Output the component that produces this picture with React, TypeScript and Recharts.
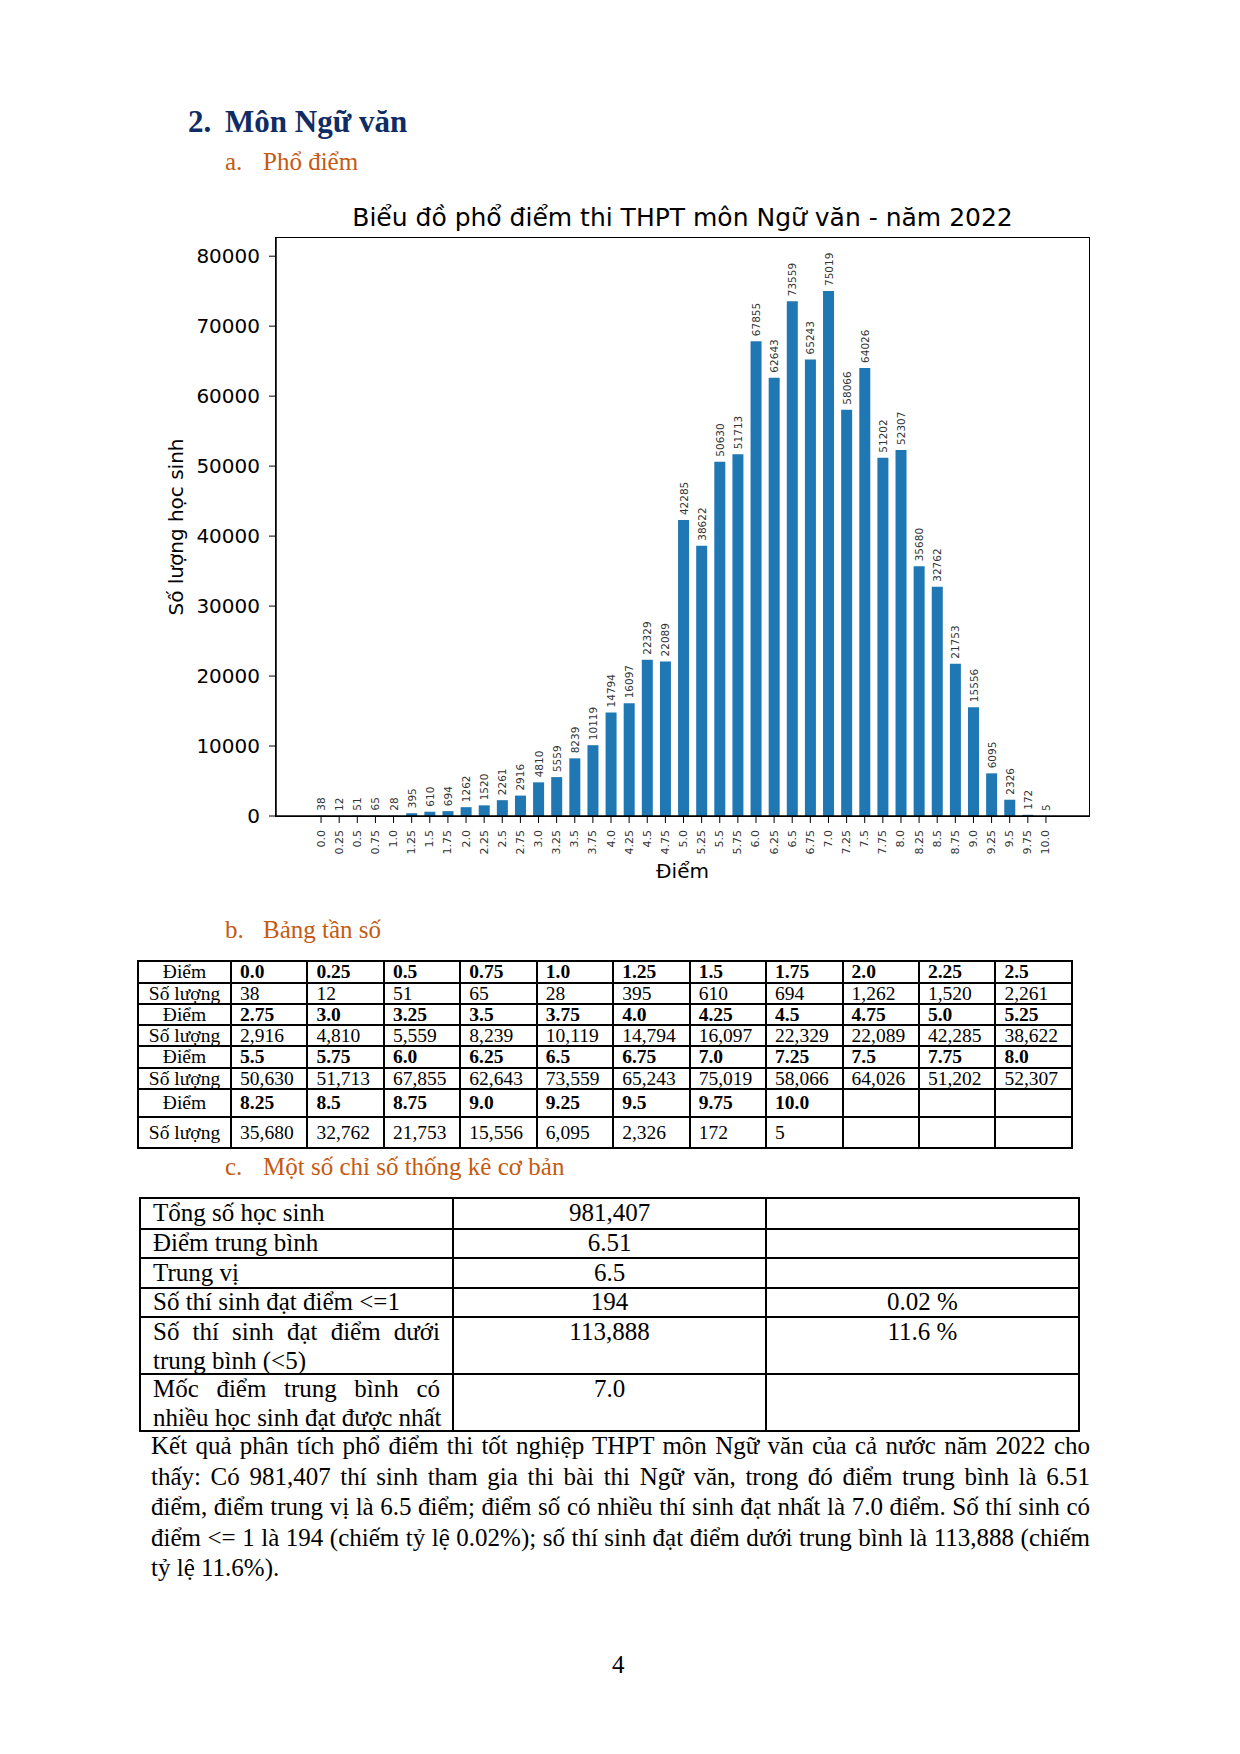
import React from 'react'
import { BarChart, Bar, XAxis, YAxis, LabelList } from 'recharts'

// score bins and number of candidates (Ngữ văn 2022)
const scores = [
  '0.0', '0.25', '0.5', '0.75', '1.0', '1.25', '1.5', '1.75', '2.0', '2.25', '2.5',
  '2.75', '3.0', '3.25', '3.5', '3.75', '4.0', '4.25', '4.5', '4.75', '5.0', '5.25',
  '5.5', '5.75', '6.0', '6.25', '6.5', '6.75', '7.0', '7.25', '7.5', '7.75', '8.0',
  '8.25', '8.5', '8.75', '9.0', '9.25', '9.5', '9.75', '10.0',
]
const counts = [
  38, 12, 51, 65, 28, 395, 610, 694, 1262, 1520, 2261,
  2916, 4810, 5559, 8239, 10119, 14794, 16097, 22329, 22089, 42285, 38622,
  50630, 51713, 67855, 62643, 73559, 65243, 75019, 58066, 64026, 51202, 52307,
  35680, 32762, 21753, 15556, 6095, 2326, 172, 5,
]
const yTicks = [0, 10000, 20000, 30000, 40000, 50000, 60000, 70000, 80000]

const statLabels = [
  ['Tổng số học sinh'],
  ['Điểm trung bình'],
  ['Trung vị'],
  ['Số thí sinh đạt điểm <=1'],
  ['Số thí sinh đạt điểm dưới', 'trung bình (<5)'],
  ['Mốc điểm trung bình có', 'nhiều học sinh đạt được nhất'],
]
const statValues = ['981,407', '6.51', '6.5', '194', '113,888', '7.0']
const statPercents = ['', '', '', '0.02 %', '11.6 %', '']

const summaryLines = [
  'Kết quả phân tích phổ điểm thi tốt nghiệp THPT môn Ngữ văn của cả nước năm 2022 cho',
  'thấy: Có 981,407 thí sinh tham gia thi bài thi Ngữ văn, trong đó điểm trung bình là 6.51',
  'điểm, điểm trung vị là 6.5 điểm; điểm số có nhiều thí sinh đạt nhất là 7.0 điểm. Số thí sinh có',
  'điểm <= 1 là 194 (chiếm tỷ lệ 0.02%); số thí sinh đạt điểm dưới trung bình là 113,888 (chiếm',
  'tỷ lệ 11.6%).',
]

const SERIF = '"Liberation Serif", "Times New Roman", serif'
const SANS = '"DejaVu Sans", sans-serif'
const ORANGE = '#c55a11'
const NAVY = '#102c64'

const fmt = (n: number) => n.toLocaleString('en-US')

function XTick({ x, y, payload }: any) {
  return (
    <text transform={`translate(${x},${y + 3}) rotate(-90)`} textAnchor="end" dominantBaseline="central"
      fontSize={11} fontFamily={SANS} fill="#333">
      {payload.value}
    </text>
  )
}

function BarValue({ x, y, width, value }: any) {
  const cx = Number(x) + Number(width) / 2
  return (
    <text transform={`translate(${cx},${Number(y) - 5}) rotate(-90)`} textAnchor="start" dominantBaseline="central"
      fontSize={10.5} fontFamily={SANS} fill="#333">
      {value}
    </text>
  )
}

function YTitle({ viewBox }: any) {
  const cy = viewBox.y + viewBox.height / 2
  return (
    <text transform={`translate(${viewBox.x},${cy}) rotate(-90)`} textAnchor="middle" dominantBaseline="central"
      fontSize={20} fontFamily={SANS} fill="#000">
      Số lượng học sinh
    </text>
  )
}

function XTitle({ viewBox }: any) {
  return (
    <text x={viewBox.x + viewBox.width / 2} y={viewBox.y + 55} textAnchor="middle" dominantBaseline="central"
      fontSize={20} fontFamily={SANS} fill="#000">
      Điểm
    </text>
  )
}

function ScoreChart() {
  const data = scores.map((s, i) => ({ score: s, count: counts[i] }))
  const line = { stroke: '#000', strokeWidth: 1.5 }
  return (
    <div style={{ position: 'relative', width: 1240, height: 760 }}>
      <BarChart width={1240} height={760} data={data} barCategoryGap="20%"
        margin={{ top: 78, right: 151, left: 176, bottom: 44 }}>
        <XAxis dataKey="score" interval={0} padding={{ left: 36, right: 34 }} height={60}
          tickSize={7} tickMargin={4} tick={<XTick />} axisLine={line} tickLine={{ stroke: '#000' }}
          label={<XTitle />} />
        <YAxis domain={[0, 82600]} ticks={yTicks} width={100} tickSize={7} tickMargin={9}
          tick={{ fill: '#000', fontSize: 20, fontFamily: SANS }} axisLine={line} tickLine={{ stroke: '#000' }}
          label={<YTitle />} />
        <Bar dataKey="count" fill="#1f77b4" isAnimationActive={false}>
          <LabelList dataKey="count" content={<BarValue />} />
        </Bar>
      </BarChart>
      {/* plot frame (top / right spines) */}
      <div style={{
        position: 'absolute', left: 275.25, top: 77.25, width: 814.5, height: 579.5,
        border: '1.5px solid #000', boxSizing: 'border-box', pointerEvents: 'none',
      }} />
    </div>
  )
}

function FreqTable() {
  const perRow = 11
  const colW = [93, ...Array(perRow).fill(76.45)]
  const rowH = [22, 21, 21, 21, 22, 21, 28, 31]
  const rows: { label: string; cells: string[]; bold: boolean }[] = []
  for (let i = 0; i < scores.length; i += perRow) {
    const s = scores.slice(i, i + perRow)
    const c = counts.slice(i, i + perRow).map(fmt)
    while (s.length < perRow) { s.push(''); c.push('') }
    rows.push({ label: 'Điểm', cells: s, bold: true })
    rows.push({ label: 'Số lượng', cells: c, bold: false })
  }
  const cell: React.CSSProperties = {
    borderRight: '2px solid #000', borderBottom: '2px solid #000', boxSizing: 'border-box',
    display: 'flex', alignItems: 'center', whiteSpace: 'nowrap', overflow: 'hidden',
  }
  return (
    <div style={{
      position: 'absolute', left: 137, top: 960, display: 'grid',
      gridTemplateColumns: colW.map(w => w + 'px').join(' '),
      gridTemplateRows: rowH.map(h => h + 'px').join(' '),
      borderLeft: '2px solid #000', borderTop: '2px solid #000',
      fontFamily: SERIF, fontSize: 19.5, lineHeight: '20px',
    }}>
      {rows.map((r, ri) => (
        <React.Fragment key={ri}>
          <div style={{ ...cell, justifyContent: 'center' }}>{r.label}</div>
          {r.cells.map((v, ci) => (
            <div key={ci} style={{ ...cell, paddingLeft: 8, fontWeight: r.bold ? 700 : 400 }}>{v}</div>
          ))}
        </React.Fragment>
      ))}
    </div>
  )
}

function StatsTable() {
  const colW = [313, 313, 313]
  const rowH = [31, 29, 30, 29, 57, 57]
  const cell: React.CSSProperties = {
    borderRight: '2px solid #000', borderBottom: '2px solid #000', boxSizing: 'border-box',
    display: 'flex', flexDirection: 'column', whiteSpace: 'nowrap',
  }
  return (
    <div style={{
      position: 'absolute', left: 139, top: 1197, display: 'grid',
      gridTemplateColumns: colW.map(w => w + 'px').join(' '),
      gridTemplateRows: rowH.map(h => h + 'px').join(' '),
      borderLeft: '2px solid #000', borderTop: '2px solid #000',
      fontFamily: SERIF, fontSize: 25, lineHeight: '28.5px',
    }}>
      {statLabels.map((lines, i) => {
        const jc = lines.length > 1 ? 'flex-start' : 'center'
        return (
          <React.Fragment key={i}>
            <div style={{ ...cell, justifyContent: jc, padding: '0 12px' }}>
              {lines.map((t, k) => (
                <div key={k} style={k < lines.length - 1 ? { textAlign: 'justify', textAlignLast: 'justify' } : undefined}>{t}</div>
              ))}
            </div>
            <div style={{ ...cell, justifyContent: jc, textAlign: 'center' }}>{statValues[i]}</div>
            <div style={{ ...cell, justifyContent: jc, textAlign: 'center' }}>{statPercents[i]}</div>
          </React.Fragment>
        )
      })}
    </div>
  )
}

export default function App() {
  const abs = (left: number, top: number, extra: React.CSSProperties = {}): React.CSSProperties => ({
    position: 'absolute', left, top, whiteSpace: 'nowrap', ...extra,
  })
  const sub = { fontFamily: SERIF, fontSize: 25, lineHeight: '30px', color: ORANGE }
  const head = { fontSize: 31, lineHeight: '36px', fontWeight: 700, color: NAVY }
  return (
    <div style={{ position: 'absolute', left: 0, top: 0, width: 1240, height: 1754, background: '#fff', color: '#000', fontFamily: SERIF }}>
      <div style={abs(188, 104, head)}>2.</div>
      <div style={abs(225, 104, head)}>Môn Ngữ văn</div>
      <div style={abs(225, 147, sub)}>a.</div>
      <div style={abs(263, 147, sub)}>Phổ điểm</div>

      <div style={abs(276, 203, { width: 813, textAlign: 'center', fontFamily: SANS, fontSize: 25, lineHeight: '30px' })}>
        Biểu đồ phổ điểm thi THPT môn Ngữ văn - năm 2022
      </div>
      <div style={{ position: 'absolute', left: 0, top: 160 }}>
        <ScoreChart />
      </div>

      <div style={abs(225, 915, sub)}>b.</div>
      <div style={abs(263, 915, sub)}>Bảng tần số</div>
      <FreqTable />

      <div style={abs(225, 1152, sub)}>c.</div>
      <div style={abs(263, 1152, sub)}>Một số chỉ số thống kê cơ bản</div>
      <StatsTable />

      <div style={{ position: 'absolute', left: 151, top: 1431, width: 939, fontSize: 25, lineHeight: '30.5px' }}>
        {summaryLines.map((t, i) => (
          <div key={i} style={{ whiteSpace: 'nowrap', textAlign: 'justify', textAlignLast: i < summaryLines.length - 1 ? 'justify' : 'left' }}>{t}</div>
        ))}
      </div>

      <div style={abs(612, 1650, { fontSize: 25, lineHeight: '30px' })}>4</div>
    </div>
  )
}
